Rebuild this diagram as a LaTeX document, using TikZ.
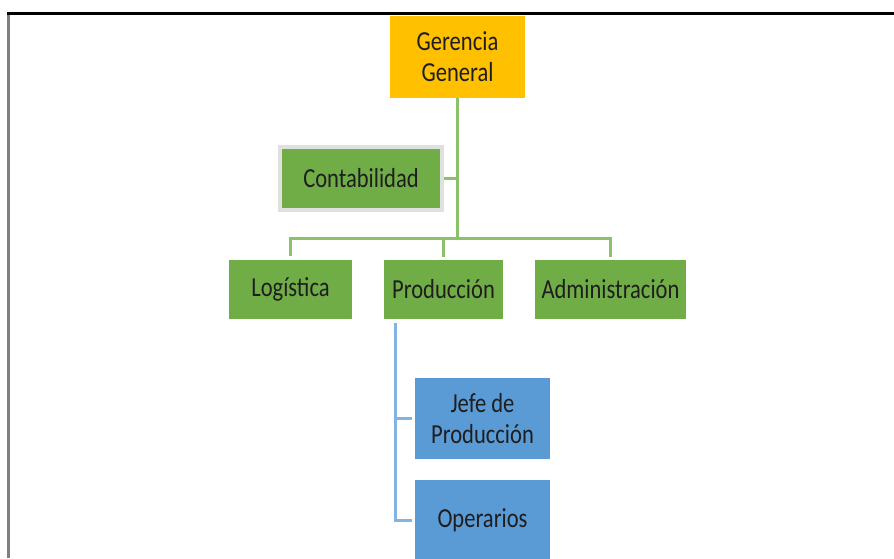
\documentclass[tikz,border=0pt]{standalone}
\usepackage{fontspec}
\setmainfont{Carlito}
\newfontfamily\boxfont[FakeStretch=0.82]{Carlito}
\usetikzlibrary{positioning}
\definecolor{orgOrange}{HTML}{FFC000}
\definecolor{orgGreen}{HTML}{70AD47}
\definecolor{orgBlue}{HTML}{5B9BD5}
\definecolor{lineGreen}{HTML}{8CC06A}
\definecolor{lineBlue}{HTML}{82B3E2}
\definecolor{boxText}{HTML}{1E1E1E}

\begin{document}
\begin{tikzpicture}[x = 1pt, y = -1pt,
	unit/.style = {inner sep = 0pt, align = center, text = boxText, font = \boxfont\fontsize{27.5}{31}\selectfont},
	boss/.style = {unit, fill = orgOrange, minimum width = 135pt, minimum height = 82pt},
	area/.style = {unit, fill = orgGreen, minimum height = 59pt},
	crew/.style = {unit, fill = orgBlue, minimum width = 135pt},
	greenline/.style = {lineGreen, line width = 3pt},
	blueline/.style = {lineBlue, line width = 3pt}]
	\useasboundingbox (0,0) rectangle (894,558);
	\draw[gray, line width = 3pt] (8,12) -- (8,558);
	\draw[black, line width = 3pt] (7,13) -- (894,13);
	
	\node[boss] (gerencia) at (457.5,57) {Gerencia\\General};
	\node[area, minimum width = 162pt, minimum height = 63pt, draw = black!12, line width = 4pt] (contab) at (361,178.5) {Contabilidad};
	\node[area, minimum width = 123pt] (logistica) at (290.5,289) {Logística};
	\node[area, minimum width = 119pt] (produccion) at (443.5,289.5) {Producción};
	\node[area, minimum width = 151pt] (admin) at (610.5,289.5) {Administración};
	\node[crew, minimum height = 81pt] (jefe) at (482.5,418.5) {Jefe de\\Producción};
	\node[crew, minimum height = 80pt] (operarios) at (482.5,520) {Operarios};
	
	\coordinate (bus) at (457.5,238);
	\coordinate (tap) at (395,323);
	
	\draw[greenline] (gerencia.south) -- (bus);
	\draw[greenline] (contab.east) -- (contab.east -| bus);
	\draw[greenline, shorten <= 3pt, shorten >= 3pt] (logistica.north) |- (bus) -| (admin.north);
	\draw[greenline, shorten <= 3pt] (produccion.north) -- (produccion.north |- bus);
	
	\draw[blueline, shorten >= 3pt] (tap) |- (operarios.west);
	\draw[blueline, shorten >= 3pt] (tap |- jefe.west) -- (jefe.west);
\end{tikzpicture}
\end{document}
